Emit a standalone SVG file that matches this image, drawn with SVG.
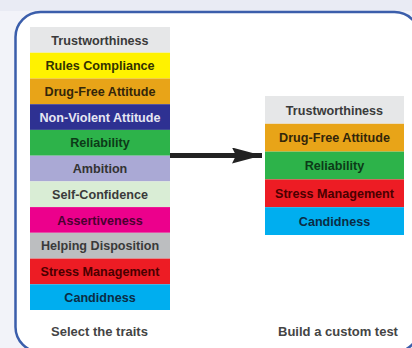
<svg xmlns="http://www.w3.org/2000/svg" width="412" height="348" viewBox="0 0 412 348">
<style>
text{font-family:"Liberation Sans",Arial,sans-serif;font-weight:bold;font-size:12.6px;text-anchor:middle}
.cap{font-size:13px;fill:#444}
</style>
<defs>
<marker id="ah" markerUnits="userSpaceOnUse" markerWidth="32" markerHeight="18" refX="30" refY="8" orient="auto">
<path d="M0,0 L30,8 L0,16 L4,8 Z" fill="#222"/>
</marker>
</defs>
<rect x="0" y="0" width="412" height="348" fill="#f2f3f9"/>
<rect x="0" y="0" width="412" height="11" fill="#e9ebf4"/>
<rect id="frame" x="15.5" y="12" width="404" height="340" rx="25" ry="25" fill="#ffffff" stroke="#3b5eab" stroke-width="2.5"/>
<g id="left-list">
<g id="l1"><rect x="30" y="27" width="140" height="25.7" fill="#e6e7e8"/><text x="100" y="44.5" fill="#3a3a3a">Trustworthiness</text></g>
<g id="l2"><rect x="30" y="52.7" width="140" height="25.8" fill="#fff200"/><text x="100" y="70.2" fill="#333300">Rules Compliance</text></g>
<g id="l3"><rect x="30" y="78.5" width="140" height="25.7" fill="#e8a418"/><text x="100" y="96" fill="#33260a">Drug-Free Attitude</text></g>
<g id="l4"><rect x="30" y="104.2" width="140" height="25.7" fill="#2e3192"/><text x="100" y="121.7" fill="#e6e6f2">Non-Violent Attitude</text></g>
<g id="l5"><rect x="30" y="129.9" width="140" height="25.8" fill="#2db34a"/><text x="100" y="147.4" fill="#0c3a18">Reliability</text></g>
<g id="l6"><rect x="30" y="155.7" width="140" height="25.7" fill="#aaa9d5"/><text x="100" y="173.2" fill="#333333">Ambition</text></g>
<g id="l7"><rect x="30" y="181.4" width="140" height="25.7" fill="#d9edd5"/><text x="100" y="198.9" fill="#3a3a3a">Self-Confidence</text></g>
<g id="l8"><rect x="30" y="207.1" width="140" height="25.7" fill="#ec008c"/><text x="100" y="224.6" fill="#4a0030">Assertiveness</text></g>
<g id="l9"><rect x="30" y="232.8" width="140" height="25.8" fill="#bcbec0"/><text x="100" y="250.3" fill="#3a3a3a">Helping Disposition</text></g>
<g id="l10"><rect x="30" y="258.6" width="140" height="25.7" fill="#ed1c24"/><text x="100" y="276.1" fill="#4a0000">Stress Management</text></g>
<g id="l11"><rect x="30" y="284.3" width="140" height="25.7" fill="#00aeef"/><text x="100" y="301.8" fill="#0b2c45">Candidness</text></g>
</g>
<g id="right-list">
<g id="r1"><rect x="265" y="96" width="139" height="27.8" fill="#e6e7e8"/><text x="334.5" y="114.5" fill="#3a3a3a">Trustworthiness</text></g>
<g id="r2"><rect x="265" y="123.8" width="139" height="27.8" fill="#e8a418"/><text x="334.5" y="142.3" fill="#33260a">Drug-Free Attitude</text></g>
<g id="r3"><rect x="265" y="151.6" width="139" height="27.8" fill="#2db34a"/><text x="334.5" y="170.1" fill="#0c3a18">Reliability</text></g>
<g id="r4"><rect x="265" y="179.4" width="139" height="27.8" fill="#ed1c24"/><text x="334.5" y="197.9" fill="#4a0000">Stress Management</text></g>
<g id="r5"><rect x="265" y="207.2" width="139" height="27.8" fill="#00aeef"/><text x="334.5" y="225.7" fill="#0b2c45">Candidness</text></g>
</g>
<g id="connectors">
<line x1="170" y1="155.5" x2="262" y2="155.5" stroke="#222" stroke-width="5" marker-end="url(#ah)"/>
</g>
<text class="cap" x="99.5" y="335.5">Select the traits</text>
<text class="cap" x="338" y="335.5">Build a custom test</text>
</svg>
